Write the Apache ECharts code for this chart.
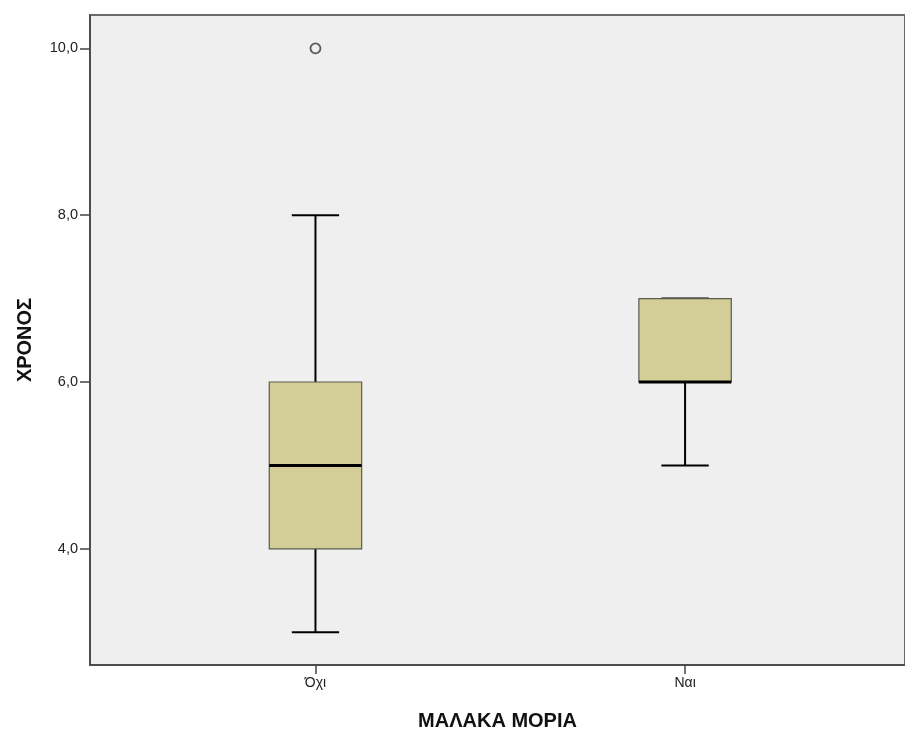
<!DOCTYPE html>
<html>
<head>
<meta charset="utf-8">
<script src="https://cdn.jsdelivr.net/npm/echarts@6/dist/echarts.min.js"></script>
<style>html,body{margin:0;padding:0;background:#fff}#c{width:905px;height:736px}</style>
</head>
<body>
<div id="c"></div>
<script>
const categories = ['Όχι', 'Ναι'];
const positions = [1, 2];
const lowWhiskers = [3, 5];
const q1s = [4, 6];
const medians = [5, 6];
const q3s = [6, 7];
const highWhiskers = [8, 7];
const outliers = [[1, 10]];
const yTicks = [4, 6, 8, 10];

const boxData = positions.map((p, i) => [p, lowWhiskers[i], q1s[i], medians[i], q3s[i], highWhiskers[i]]);

const chart = echarts.init(document.getElementById('c'));
const font = 'Liberation Sans, Arial, sans-serif';

function renderBox(params, api) {
  const x = api.value(0);
  const lo = api.coord([x, api.value(1)]);
  const q1 = api.coord([x, api.value(2)]);
  const md = api.coord([x, api.value(3)]);
  const q3 = api.coord([x, api.value(4)]);
  const hi = api.coord([x, api.value(5)]);
  const unit = api.size([1, 0])[0];
  const hw = unit * 0.125;
  const cw = unit * 0.064;
  const cx = lo[0];
  const wStyle = { stroke: '#000', lineWidth: 2 };
  return {
    type: 'group',
    children: [
      { type: 'line', shape: { x1: cx, y1: q3[1], x2: cx, y2: hi[1] }, style: wStyle },
      { type: 'line', shape: { x1: cx, y1: q1[1], x2: cx, y2: lo[1] }, style: wStyle },
      { type: 'line', shape: { x1: cx - cw, y1: hi[1], x2: cx + cw, y2: hi[1] }, style: wStyle },
      { type: 'line', shape: { x1: cx - cw, y1: lo[1], x2: cx + cw, y2: lo[1] }, style: wStyle },
      { type: 'rect', shape: { x: cx - hw, y: q3[1], width: hw * 2, height: q1[1] - q3[1] },
        style: { fill: '#d3ce98', stroke: '#5a5a50', lineWidth: 1.2 } },
      { type: 'line', shape: { x1: cx - hw, y1: md[1], x2: cx + hw, y2: md[1] }, style: { stroke: '#000', lineWidth: 3 } }
    ]
  };
}

chart.setOption({
  animation: false,
  grid: {
    left: 90, right: -6, top: 15, bottom: 67,
    show: true, backgroundColor: '#efefef', borderColor: '#6a6a6a', borderWidth: 2
  },
  xAxis: {
    type: 'value', min: 0.39, max: 2.595,
    splitLine: { show: false },
    axisLine: { show: true, lineStyle: { color: '#444', width: 1.5 } },
    axisTick: { show: true, length: 9, lineStyle: { color: '#444', width: 1.5 }, customValues: positions },
    axisLabel: {
      customValues: positions, margin: 11, color: '#222', fontFamily: font, fontSize: 14,
      formatter: v => categories[Math.round(v) - 1] || ''
    },
    name: 'ΜΑΛΑΚΑ ΜΟΡΙΑ', nameLocation: 'middle', nameGap: 46,
    nameTextStyle: { fontFamily: font, fontSize: 20, fontWeight: 'bold', color: '#111' }
  },
  yAxis: {
    type: 'value', min: 2.607, max: 10.4,
    splitLine: { show: false },
    axisLine: { show: true, lineStyle: { color: '#444', width: 1.5 } },
    axisTick: { show: true, length: 10, lineStyle: { color: '#444', width: 1.5 }, customValues: yTicks },
    axisLabel: {
      customValues: yTicks, margin: 12, color: '#222', fontFamily: font, fontSize: 14.5,
      formatter: v => v.toFixed(1).replace('.', ',')
    },
    name: 'ΧΡΟΝΟΣ', nameLocation: 'middle', nameGap: 55, nameRotate: 90,
    nameTextStyle: { fontFamily: font, fontSize: 20, fontWeight: 'bold', color: '#111' }
  },
  series: [
    { type: 'custom', renderItem: renderBox, data: boxData, encode: { x: 0, y: [1, 2, 3, 4, 5] }, silent: true },
    { type: 'scatter', data: outliers, symbol: 'circle', symbolSize: 10,
      itemStyle: { color: '#efefef', borderColor: '#333', borderWidth: 1.8 }, silent: true }
  ]
});
</script>
</body>
</html>
